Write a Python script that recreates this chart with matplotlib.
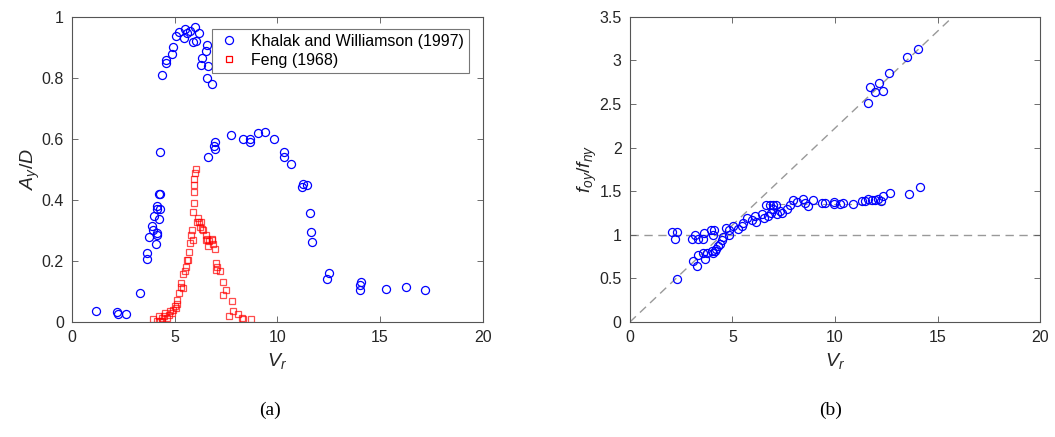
import numpy as np
import matplotlib
matplotlib.use('Agg')
import matplotlib.pyplot as plt

plt.rcParams['font.family'] = ['Liberation Sans', 'DejaVu Sans']
plt.rcParams['mathtext.fontset'] = 'custom'
plt.rcParams['mathtext.it'] = 'Liberation Sans:italic'
plt.rcParams['mathtext.rm'] = 'Liberation Sans'

# (a) amplitude response, Khalak and Williamson (1997)
kw_vr = [1.15, 2.19, 2.24, 2.62, 3.30, 3.62, 3.66, 3.75, 3.87, 3.92, 3.96,
         4.08, 4.11, 4.14, 4.11, 4.14, 4.21, 4.27, 4.22, 4.29, 4.29,
         4.35, 4.56, 4.55, 4.84, 4.89, 5.07, 5.22, 5.44, 5.49, 5.57, 5.74,
         5.98, 6.19, 5.90, 6.03, 6.58, 6.52, 6.30, 6.27, 6.60, 6.58, 6.79,
         6.60, 6.90, 6.94, 6.95, 7.73, 8.30, 8.66, 8.68, 9.07, 9.37, 9.85,
         10.33, 10.33, 10.66, 11.19, 11.26, 11.45, 11.60, 11.63, 11.70,
         12.40, 12.49, 14.04, 14.04, 14.09, 15.29, 16.26, 17.17]
kw_ay = [0.035, 0.033, 0.028, 0.028, 0.094, 0.206, 0.226, 0.278, 0.313, 0.302, 0.348,
         0.255, 0.286, 0.293, 0.370, 0.381, 0.337, 0.370, 0.419, 0.419, 0.557,
         0.810, 0.847, 0.858, 0.878, 0.902, 0.935, 0.951, 0.931, 0.960, 0.945, 0.954,
         0.966, 0.945, 0.916, 0.921, 0.907, 0.889, 0.864, 0.840, 0.837, 0.798, 0.780,
         0.541, 0.575, 0.588, 0.568, 0.611, 0.599, 0.599, 0.589, 0.620, 0.623, 0.599,
         0.558, 0.541, 0.517, 0.441, 0.453, 0.449, 0.358, 0.296, 0.261,
         0.141, 0.160, 0.105, 0.120, 0.132, 0.108, 0.115, 0.105]

# (a) amplitude response, Feng (1968)
feng_vr = [3.92, 4.11, 4.24, 4.27, 4.35, 4.35, 4.47, 4.52, 4.73, 4.76, 4.92, 5.00,
           5.09, 5.12, 5.20, 5.28, 5.30, 5.41, 5.49, 5.60, 5.65, 5.69, 5.74, 5.77,
           5.82, 5.90, 5.93, 5.93, 5.93, 5.95, 5.98, 6.04, 6.11, 6.10, 6.20, 6.28,
           6.30, 6.38, 6.50, 6.50, 6.58, 6.68, 6.79, 6.86, 6.95, 6.99, 7.07, 7.20,
           7.36, 7.49, 7.36, 7.77, 7.85, 7.65, 8.09, 8.25, 8.30, 8.69,
           4.60, 4.85, 5.05, 5.38, 5.55, 5.86, 6.22, 6.62, 6.82, 7.02]
feng_ay = [0.010, 0.002, 0.021, 0.005, 0.013, 0.005, 0.019, 0.029, 0.024, 0.035, 0.040, 0.053,
           0.060, 0.073, 0.095, 0.115, 0.128, 0.158, 0.166, 0.204, 0.204, 0.231, 0.258, 0.286,
           0.300, 0.360, 0.389, 0.427, 0.449, 0.469, 0.487, 0.500, 0.340, 0.326, 0.326, 0.326,
           0.305, 0.300, 0.270, 0.285, 0.272, 0.265, 0.272, 0.255, 0.239, 0.193, 0.180, 0.166,
           0.131, 0.106, 0.089, 0.068, 0.035, 0.021, 0.026, 0.013, 0.010, 0.010,
           0.012, 0.030, 0.045, 0.110, 0.180, 0.270, 0.310, 0.250, 0.270, 0.170]

# (b) frequency ratio, Khalak and Williamson (1997)
fr_vr = [14.03, 13.53, 12.62, 12.16, 11.71, 11.95, 12.36, 11.63,
         2.28, 2.07, 2.31, 2.21, 3.02, 3.19, 3.33, 3.56, 3.61, 3.97, 4.11, 4.05,
         3.06, 3.25, 3.30, 3.58, 3.66, 3.74, 3.98, 4.06, 4.14, 4.22, 4.30, 4.39,
         4.47, 4.55, 4.68, 4.85, 4.85, 5.01, 5.28, 5.45, 5.50, 5.69, 5.93, 6.10,
         6.15, 6.46, 6.54, 6.63, 6.82, 6.98, 7.12, 6.75, 6.87, 7.00, 7.15, 7.32,
         7.40, 7.64, 7.80, 7.97, 8.16, 8.45, 8.53, 8.70, 8.94, 9.35, 9.52, 9.93,
         9.97, 10.26, 10.39, 10.86, 11.30, 11.46, 11.63, 11.79, 11.95, 12.11,
         12.23, 12.36, 12.68, 13.59, 14.15]
fr_f = [3.126, 3.034, 2.859, 2.737, 2.698, 2.634, 2.649, 2.515,
        0.496, 1.031, 1.031, 0.954, 0.954, 0.996, 0.954, 0.954, 1.019, 1.057, 1.057, 1.000,
        0.702, 0.637, 0.763, 0.790, 0.725, 0.790, 0.810, 0.790, 0.820, 0.840, 0.870, 0.900,
        0.940, 0.980, 1.076, 1.000, 1.057, 1.103, 1.065, 1.100, 1.140, 1.190, 1.170, 1.220,
        1.150, 1.240, 1.190, 1.343, 1.343, 1.343, 1.343, 1.220, 1.250, 1.290, 1.240, 1.270,
        1.250, 1.290, 1.343, 1.400, 1.380, 1.410, 1.360, 1.330, 1.395, 1.360, 1.360, 1.380,
        1.350, 1.355, 1.360, 1.355, 1.390, 1.390, 1.405, 1.395, 1.400, 1.405,
        1.390, 1.446, 1.477, 1.469, 1.553]

st_slope = 1 / 4.5
plateau = 1.35

spine_c = '#555555'
text_c = '#262626'


def style_axes(ax):
    for s in ax.spines.values():
        s.set_color(spine_c)
        s.set_linewidth(0.8)
    ax.tick_params(direction='in', length=4, width=0.6, color=spine_c,
                   top=True, right=True, labelsize=11.5, labelcolor=text_c, pad=6)


fig = plt.figure(figsize=(10.55, 4.37), dpi=100)
ax1 = fig.add_axes([0.0685, 0.263, 0.389, 0.699])
ax2 = fig.add_axes([0.597, 0.263, 0.389, 0.699])

# left panel
ax1.plot(feng_vr, feng_ay, 's', ms=4.5, mfc='none', mec='#ff0000', mew=0.9,
         alpha=0.7, label='Feng (1968)', zorder=2)
ax1.plot(kw_vr, kw_ay, 'o', ms=5.8, mfc='none', mec='#0000ff', mew=0.9,
         label='Khalak and Williamson (1997)', zorder=3)
ax1.set_xlim(0, 20)
ax1.set_ylim(0, 1)
ax1.set_xticks([0, 5, 10, 15, 20])
ax1.set_yticks([0, 0.2, 0.4, 0.6, 0.8, 1])
ax1.set_yticklabels(['0', '0.2', '0.4', '0.6', '0.8', '1'])
ax1.set_xlabel(r'$V_r$', fontsize=14, color=text_c, labelpad=4)
ax1.set_ylabel(r'$A_y/D$', fontsize=14, color=text_c, labelpad=0)
style_axes(ax1)
h, l = ax1.get_legend_handles_labels()
leg = ax1.legend(h[::-1], l[::-1], loc='upper right', bbox_to_anchor=(0.967, 0.959),
                 borderaxespad=0, fontsize=11.5, frameon=True, fancybox=False,
                 edgecolor=spine_c, handletextpad=0.6, handlelength=1.6,
                 borderpad=0.3, labelspacing=0.25)
leg.get_frame().set_linewidth(0.8)
for lh in leg.legend_handles:
    lh.set_alpha(1)

# right panel
ax2.axhline(1, color='#999999', ls=(0, (6, 4)), lw=1.0, zorder=1)
vx = np.array([0, 20])
ax2.plot(vx, st_slope * vx, color='#999999', ls=(0, (6, 4)), lw=1.0, zorder=1)
ax2.plot([6.7, 12.5], [plateau, plateau], color='#999999', ls=(0, (6, 4)), lw=0.8, zorder=1)
ax2.plot(fr_vr, fr_f, 'o', ms=5.8, mfc='none', mec='#0000ff', mew=0.9, zorder=3)
ax2.set_xlim(0, 20)
ax2.set_ylim(0, 3.5)
ax2.set_xticks([0, 5, 10, 15, 20])
ax2.set_yticks([0, 0.5, 1, 1.5, 2, 2.5, 3, 3.5])
ax2.set_yticklabels(['0', '0.5', '1', '1.5', '2', '2.5', '3', '3.5'])
ax2.set_xlabel(r'$V_r$', fontsize=14, color=text_c, labelpad=4)
ax2.set_ylabel(r'$f_{oy}/f_{ny}$', fontsize=14, color=text_c, labelpad=0)
style_axes(ax2)

fig.text(0.256, 0.05, '(a)', fontsize=14, family='Liberation Serif', ha='center')
fig.text(0.787, 0.05, '(b)', fontsize=14, family='Liberation Serif', ha='center')

fig.savefig('out.png', dpi=100)
plt.close(fig)
